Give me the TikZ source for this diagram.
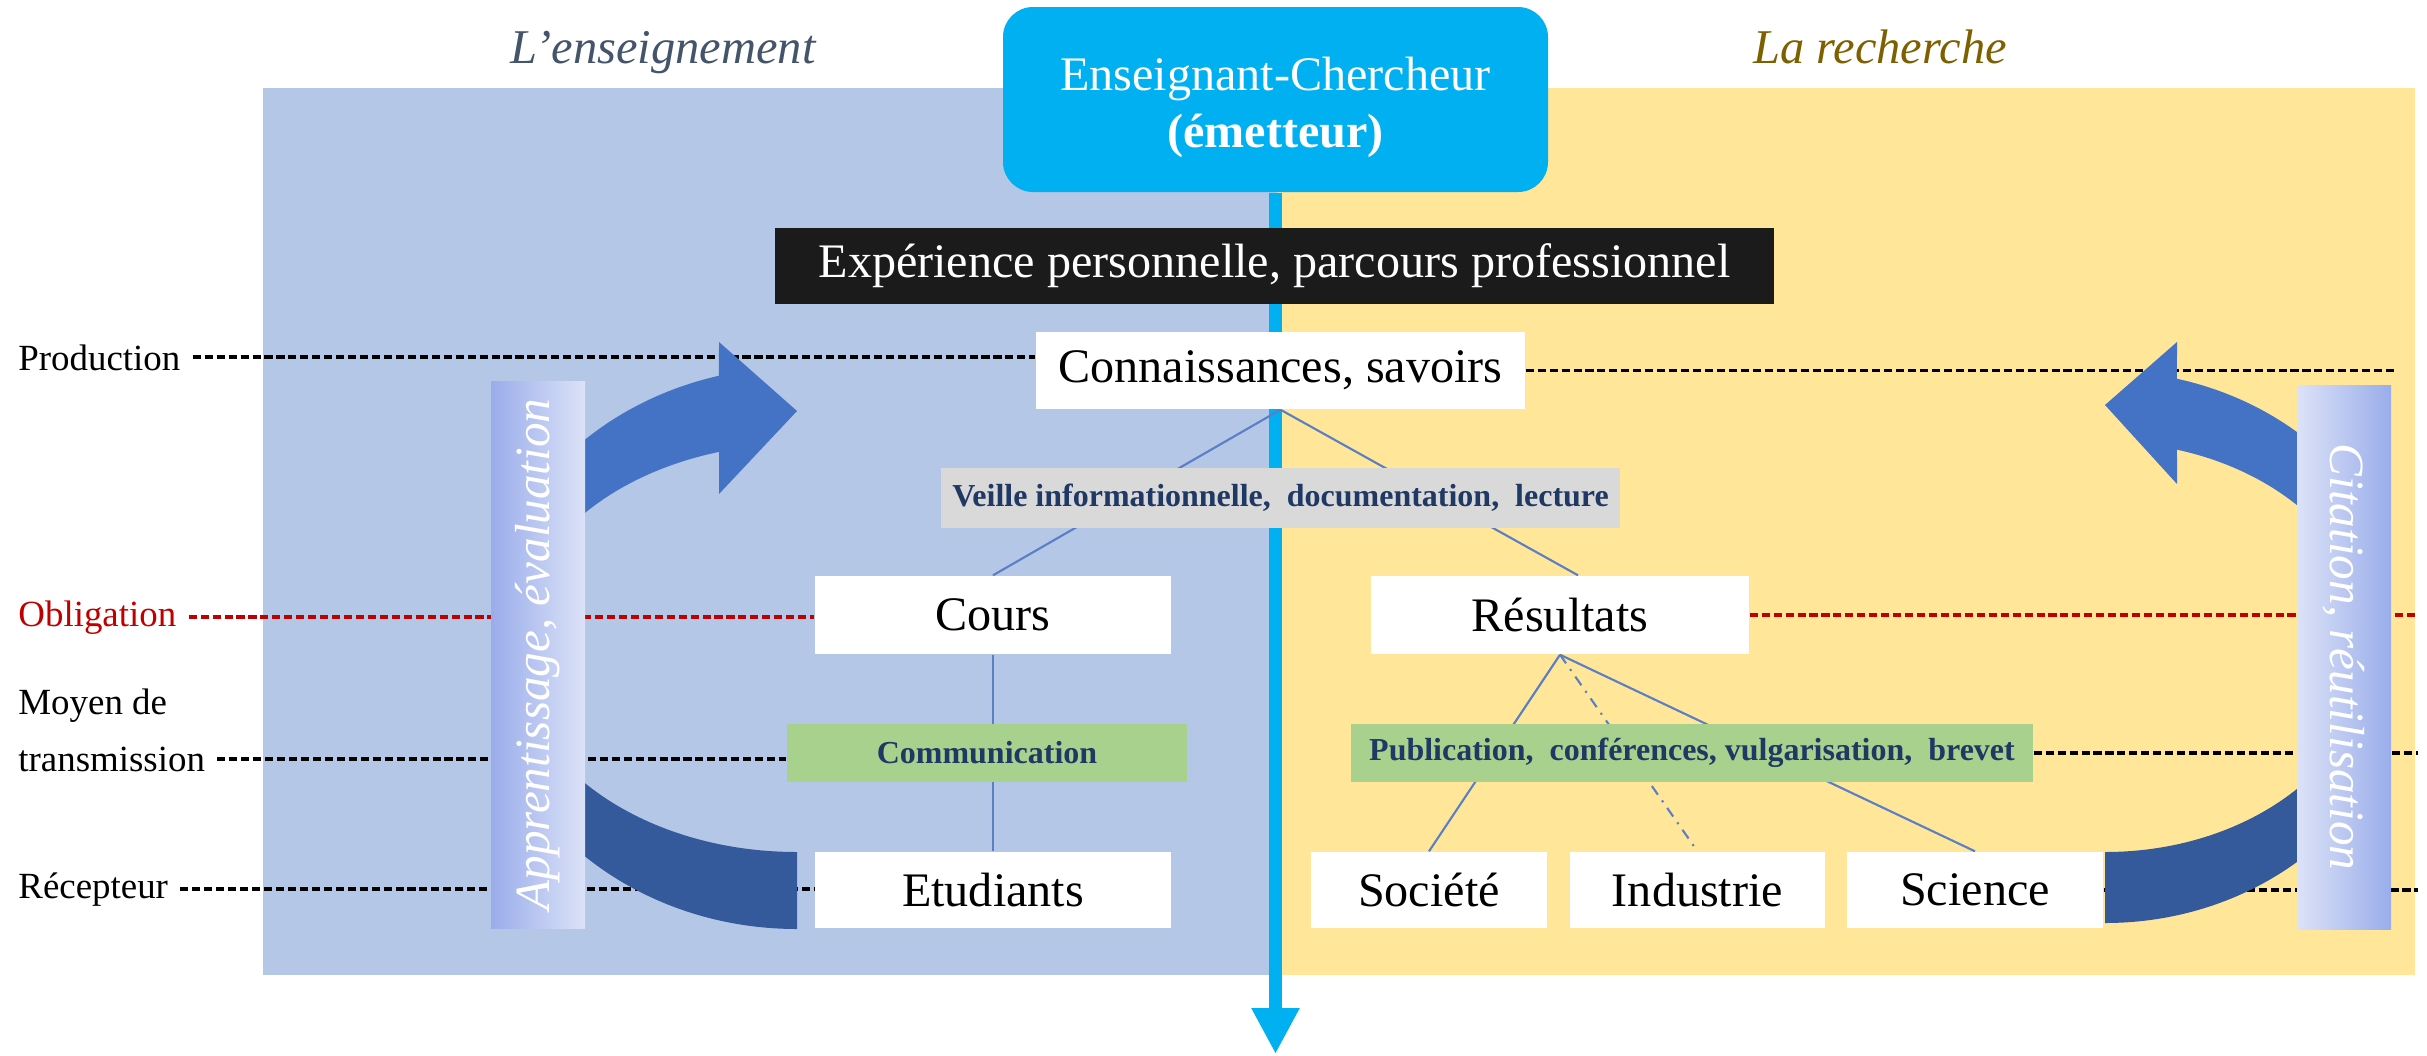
\documentclass[tikz,border=0pt]{standalone}
\usepackage{fontspec}
\setmainfont{Liberation Serif}
\usetikzlibrary{arrows.meta,calc}

\definecolor{panelblue}{HTML}{B4C7E7}
\definecolor{panelyellow}{HTML}{FFE699}
\definecolor{emetcyan}{HTML}{00B0F0}
\definecolor{expblack}{HTML}{1B1B1B}
\definecolor{veillegrey}{HTML}{D9D9D9}
\definecolor{moyengreen}{HTML}{A9D18E}
\definecolor{navy}{HTML}{1F3864}
\definecolor{linkblue}{HTML}{5A7FC4}
\definecolor{arrowlight}{HTML}{4472C4}
\definecolor{arrowdark}{HTML}{345A9C}
\definecolor{barblue}{HTML}{9AADEB}
\definecolor{barpale}{HTML}{DCE2F7}
\definecolor{oblred}{HTML}{C00000}
\definecolor{enscol}{HTML}{44546A}
\definecolor{rechcol}{HTML}{7F6000}

\pgfdeclarelayer{back}
\pgfdeclarelayer{mid}
\pgfsetlayers{back,mid,main}

\tikzset{
  whitebox/.style={fill=white, inner sep=0pt, font=\fontsize{13.7}{16.2}\selectfont},
  tagbox/.style={inner sep=0pt, text=navy, font=\fontsize{9.1}{11}\selectfont\bfseries},
  levellabel/.style={anchor=base west, font=\fontsize{10.5}{12}\selectfont},
  levelline/.style={line width=1.1pt, dash pattern=on 2.3pt off 1.1pt},
  linkline/.style={draw=linkblue, line width=0.6pt},
  barnode/.style={inner sep=0pt, minimum width=0.94cm},
  bartext/.style={text=white, font=\fontsize{14}{16}\selectfont\itshape},
  titletext/.style={anchor=base, font=\fontsize{13.8}{16}\selectfont\itshape},
}

\begin{document}
\begin{tikzpicture}
\useasboundingbox (0,0) rectangle (24.27,10.55);

% panels
\begin{pgfonlayer}{back}
\fill[panelblue] (2.63,0.80) rectangle (12.77,9.67);
\fill[panelyellow] (12.77,0.80) rectangle (24.15,9.67);
\end{pgfonlayer}

\node[titletext, text=enscol] (tens) at (6.63,9.92) {L’enseignement};
\node[titletext, text=rechcol] (trech) at (18.80,9.92) {La recherche};

% curved arrows
\coordinate (cL) at (7.97,4.07);
\begin{scope}
\clip (5.38,0) rectangle (8.3,10);
\fill[arrowlight] ($(cL)+(180:3.16 and 2.81)$)
  arc[start angle=180, end angle=104.3, x radius=3.16, y radius=2.81]
  -- (7.19,7.13) -- (7.97,6.44) -- (7.19,5.61)
  -- ($(cL)+(106:2.83 and 2.04)$)
  arc[start angle=106, end angle=180, x radius=2.83, y radius=2.04] -- cycle;
\fill[arrowdark] ($(cL)+(180:3.16 and 2.81)$)
  arc[start angle=180, end angle=270, x radius=3.16, y radius=2.81]
  -- ($(cL)+(270:2.83 and 2.04)$)
  arc[start angle=270, end angle=180, x radius=2.83, y radius=2.04] -- cycle;
\end{scope}

\coordinate (cR) at (21.05,4.08);
\begin{scope}
\clip (20.7,0) rectangle (23.44,10);
\fill[arrowlight] ($(cR)+(0:3.06 and 2.76)$)
  arc[start angle=0, end angle=76.4, x radius=3.06, y radius=2.76]
  -- (21.77,7.13) -- (21.05,6.50) -- (21.77,5.71)
  -- ($(cR)+(74.3:2.66 and 2.05)$)
  arc[start angle=74.3, end angle=0, x radius=2.66, y radius=2.05] -- cycle;
\fill[arrowdark] ($(cR)+(0:3.06 and 2.76)$)
  arc[start angle=0, end angle=-90, x radius=3.06, y radius=2.76]
  -- ($(cR)+(-90:2.66 and 2.05)$)
  arc[start angle=-90, end angle=0, x radius=2.66, y radius=2.05] -- cycle;
\end{scope}

% bars
\node[barnode, minimum height=5.47cm, left color=barblue, right color=barpale] (barL) at (5.38,4.005) {};
\node[bartext, rotate=90] (apprtxt) at (barL) {Apprentissage, évaluation};
\node[barnode, minimum height=5.44cm, left color=barpale, right color=barblue] (barR) at (23.44,3.98) {};
\node[bartext, rotate=-90] (citetxt) at (barR) {Citation, réutilisation};

% boxes
\node[fill=emetcyan, rounded corners=3mm, minimum width=5.45cm, minimum height=1.85cm] (emet) at (12.755,9.555) {};
\node[whitebox, fill=none, text=white, align=center] (emettxt) at ([yshift=-0.8mm]emet.center)
  {Enseignant-Chercheur\\\textbf{(émetteur)}};
\node[whitebox, fill=expblack, text=white, minimum width=9.99cm, minimum height=0.76cm] (exp) at (12.745,7.89)
  {Expérience personnelle, parcours professionnel};
\node[whitebox, minimum width=4.89cm, minimum height=0.77cm] (conn) at (12.805,6.845) {Connaissances, savoirs};
\node[tagbox, fill=veillegrey, minimum width=6.79cm, minimum height=0.60cm] (veille) at (12.805,5.57)
  {Veille informationnelle,\ \ documentation,\ \ lecture};
\node[whitebox, minimum width=3.56cm, minimum height=0.78cm] (cours) at (9.93,4.40) {Cours};
\node[whitebox, minimum width=3.78cm, minimum height=0.78cm] (res) at (15.60,4.40) {Résultats};
\node[tagbox, fill=moyengreen, minimum width=4.00cm, minimum height=0.58cm] (comm) at (9.87,3.02) {Communication};
\node[tagbox, fill=moyengreen, minimum width=6.82cm, minimum height=0.58cm] (pub) at (16.92,3.02)
  {Publication,\ \ conférences, vulgarisation,\ \ brevet};
\node[whitebox, minimum width=3.56cm, minimum height=0.76cm] (etud) at (9.93,1.65) {Etudiants};
\node[whitebox, minimum width=2.36cm, minimum height=0.76cm] (soc) at (14.29,1.65) {Société};
\node[whitebox, minimum width=2.55cm, minimum height=0.76cm] (ind) at (16.975,1.65) {Industrie};
\node[whitebox, minimum width=2.56cm, minimum height=0.76cm] (sci) at (19.75,1.65) {Science};

% levels
\node[levellabel] (prod) at (0.06,6.85) {Production};
\node[levellabel, text=oblred] (obl) at (0.06,4.29) {Obligation};
\node[levellabel] (moy) at (0.06,3.41) {Moyen de};
\node[levellabel] (trans) at (0.06,2.84) {transmission};
\node[levellabel] (rec) at (0.06,1.57) {Récepteur};

\coordinate (emetend) at (12.755,0.01);
\coordinate (rend) at (24.18,0);
\coordinate (prodend) at (23.94,0);

\begin{pgfonlayer}{mid}
\draw[emetcyan, line width=3.7pt, -{Triangle[width=4.5mm,length=4.6mm]}] (emet.south) -- (emet.south |- emetend);

\draw[levelline] (prod.east) -- (prod.east -| conn.west);
\draw[levelline] (conn.east) -- (conn.east -| prodend);
\draw[levelline, oblred] (obl.east) -- (obl.east -| cours.west);
\draw[levelline, oblred] (res.east) -- (res.east -| rend);
\draw[levelline] (trans.east) -- (trans.east -| comm.west);
\draw[levelline] (pub.east) -- (pub.east -| rend);
\draw[levelline] (rec.east) -- (rec.east -| etud.west);
\draw[levelline] (sci.east) -- (sci.east -| rend);

\draw[linkline] (conn.south) -- (cours.north);
\draw[linkline] (conn.south) -- ([xshift=1.8mm]res.north);
\draw[linkline] (cours.south) -- (etud.north);
\draw[linkline] (res.south) -- (soc.north);
\draw[linkline, dash dot] (res.south) -- (ind.north);
\draw[linkline] (res.south) -- (sci.north);
\end{pgfonlayer}
\end{tikzpicture}
\end{document}
